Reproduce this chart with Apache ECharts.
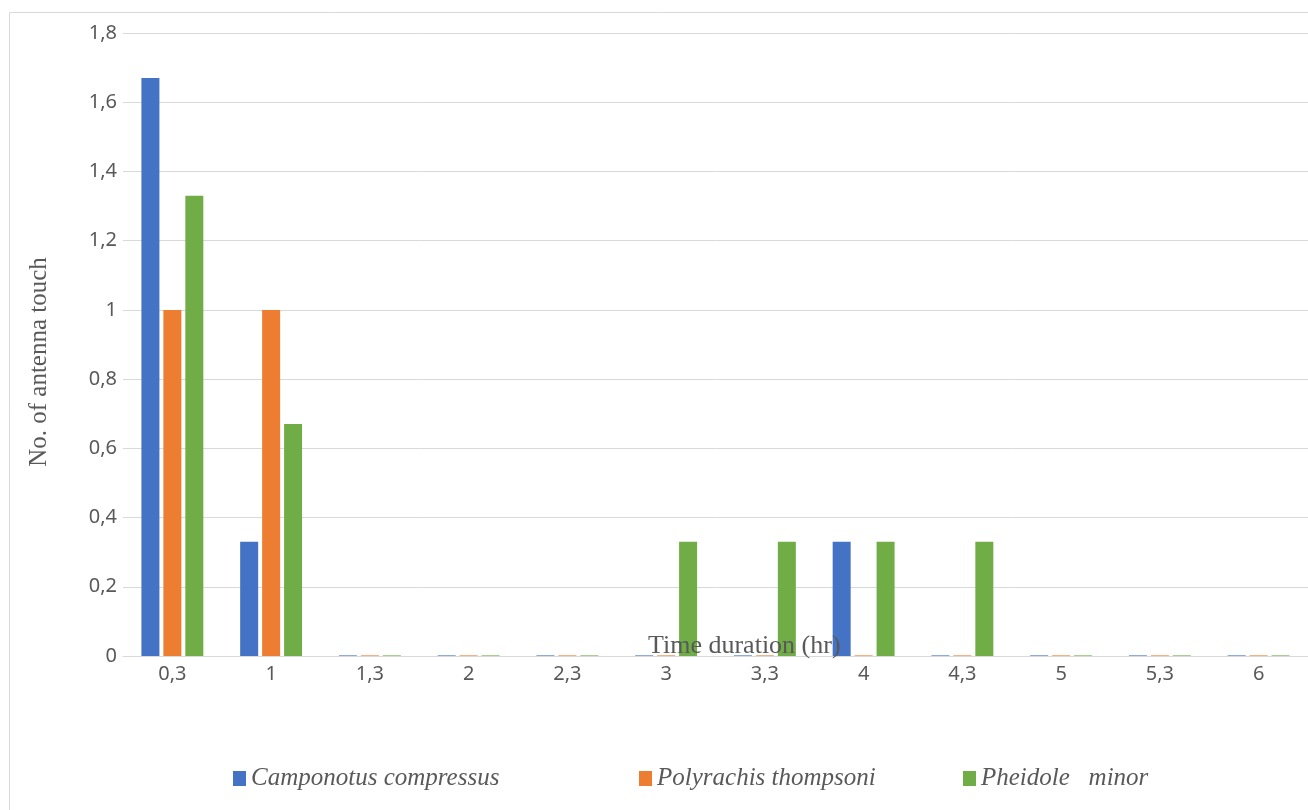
<!DOCTYPE html>
<html>
<head>
<meta charset="utf-8">
<script src="https://cdn.jsdelivr.net/npm/echarts@6/dist/echarts.min.js"></script>
<style>
  html, body { margin: 0; padding: 0; background: #fff; }
  #chart { width: 1308px; height: 810px; }
</style>
</head>
<body>
<div id="chart"></div>
<script>
// Time points (hours) and mean antenna touches per species
const categories = ['0,3', '1', '1,3', '2', '2,3', '3', '3,3', '4', '4,3', '5', '5,3', '6'];
const camponotus = [1.67, 0.33, 0, 0, 0, 0, 0, 0.33, 0, 0, 0, 0];
const polyrachis = [1, 1, 0, 0, 0, 0, 0, 0, 0, 0, 0, 0];
const pheidole = [1.33, 0.67, 0, 0, 0, 0.33, 0.33, 0.33, 0.33, 0, 0, 0];
const seriesNames = ['Camponotus compressus', 'Polyrachis thompsoni', 'Pheidole   minor'];
const colors = ['#4472C4', '#ED7D31', '#70AD47'];

const serif = '"Liberation Serif", "DejaVu Serif", serif';
const sans = '"Noto Sans", "Open Sans", "Liberation Sans", sans-serif';
const textGray = '#595959';

// Zero values appear as faint coloured hairlines on the axis
function toData(arr) {
  return arr.map(v => v === 0 ? { value: v, itemStyle: { opacity: 0.6 } } : v);
}

// One legend per series so each entry sits at its own spot
const legendLefts = [228, 634, 958];
const legends = seriesNames.map((name, i) => ({
  bottom: 14,
  left: legendLefts[i],
  itemWidth: 13,
  itemHeight: 15,
  itemGap: 8,
  icon: 'rect',
  textStyle: { fontFamily: serif, fontStyle: 'italic', fontSize: 25, color: textGray },
  data: [name]
}));

const chart = echarts.init(document.getElementById('chart'), null, { renderer: 'canvas' });

chart.setOption({
  animation: false,
  color: colors,
  grid: { left: 123, right: 0, top: 33, bottom: 154, containLabel: false },
  graphic: [
    {
      type: 'rect',
      left: 7, top: 10,
      shape: { width: 1400, height: 900 },
      style: { fill: 'none', stroke: '#d9d9d9', lineWidth: 1 },
      silent: true
    },
    {
      type: 'text',
      left: 648, top: 633,
      style: { text: 'Time duration (hr)', font: '26px ' + serif, fill: textGray },
      z: 10
    },
    {
      type: 'text',
      x: 27, y: 362,
      rotation: Math.PI / 2,
      style: {
        text: 'No. of antenna touch', font: '25px ' + serif, fill: textGray,
        align: 'center', verticalAlign: 'top'
      }
    }
  ],
  legend: legends,
  xAxis: {
    type: 'category',
    data: categories,
    axisLine: { lineStyle: { color: '#d9d9d9', width: 1 } },
    axisTick: { show: false },
    axisLabel: { color: textGray, fontFamily: sans, fontSize: 20, margin: 8 }
  },
  yAxis: {
    type: 'value',
    min: 0, max: 1.8, interval: 0.2,
    axisLine: { show: false },
    axisTick: { show: false },
    splitLine: { lineStyle: { color: '#d9d9d9', width: 1 } },
    axisLabel: {
      color: textGray, fontFamily: sans, fontSize: 20, margin: 6,
      formatter: v => String(Math.round(v * 10) / 10).replace('.', ',')
    }
  },
  series: [
    { name: seriesNames[0], type: 'bar', data: toData(camponotus), barWidth: 18, barGap: '22%', barMinHeight: 1 },
    { name: seriesNames[1], type: 'bar', data: toData(polyrachis), barWidth: 18, barGap: '22%', barMinHeight: 1 },
    { name: seriesNames[2], type: 'bar', data: toData(pheidole), barWidth: 18, barGap: '22%', barMinHeight: 1 }
  ]
});
</script>
</body>
</html>
